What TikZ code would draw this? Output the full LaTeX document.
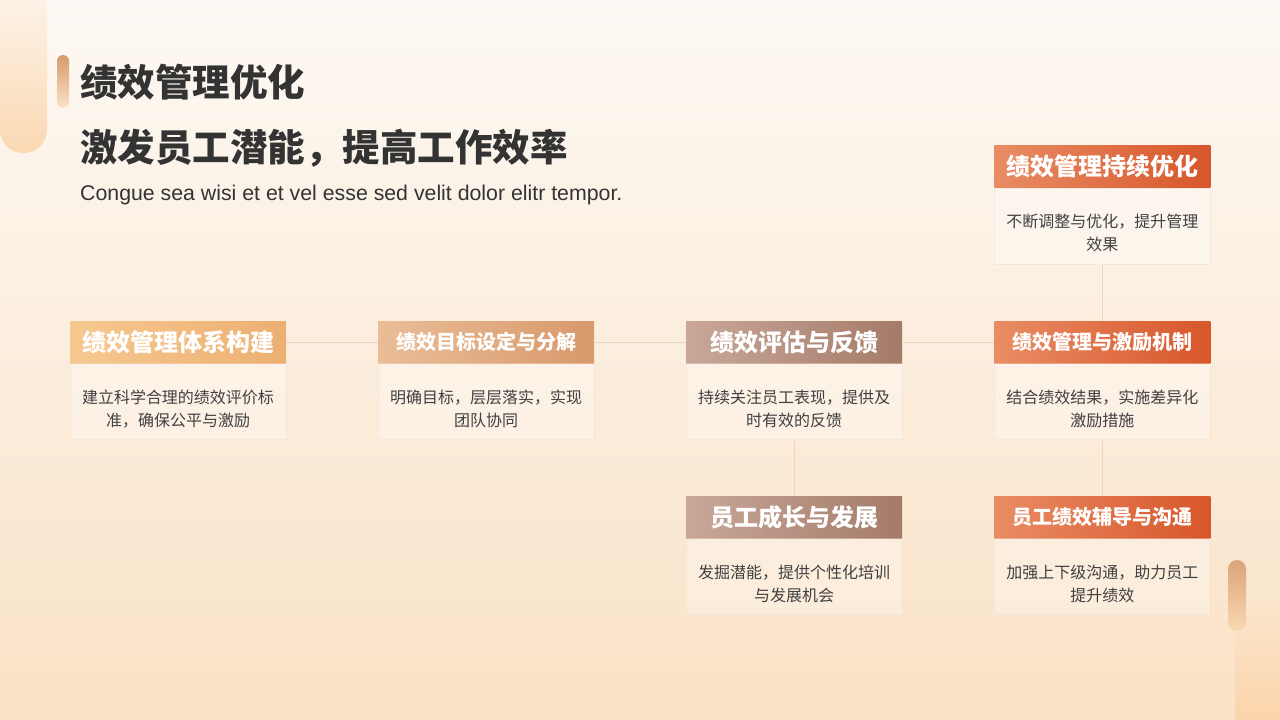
\documentclass[tikz,border=0pt]{standalone}
\usepackage{fontspec}
\setmainfont{Noto Sans CJK SC}
\newfontfamily\latinfont{Liberation Sans}
\usepackage{xcolor}
\usetikzlibrary{positioning}

\definecolor{bgtop}{HTML}{FDF9F4}
\definecolor{bgbot}{HTML}{FAE2C6}
\definecolor{titlegray}{HTML}{333333}
\definecolor{textgray}{HTML}{404040}
\definecolor{linecol}{HTML}{EDD4BE}
\definecolor{sandl}{HTML}{F6C890}
\definecolor{sandr}{HTML}{EDAF72}
\definecolor{tanl}{HTML}{EABD97}
\definecolor{tanr}{HTML}{D8996B}
\definecolor{mauvel}{HTML}{C9A799}
\definecolor{mauver}{HTML}{A47B68}
\definecolor{emberl}{HTML}{E98C64}
\definecolor{emberr}{HTML}{D8562B}
\definecolor{edgecol}{HTML}{EEDCC9}

\begin{document}
\begin{tikzpicture}[x=1pt, y=-1pt, node distance=0pt,
    head/.style={minimum width=216pt, minimum height=42pt, inner sep=0pt, text=white,
        font=\bfseries\fontsize{24pt}{28pt}\selectfont},
    headsm/.style={head, font=\bfseries\fontsize{20pt}{24pt}\selectfont},
    body/.style={minimum width=216pt, minimum height=76pt, inner sep=0pt,
        fill=white, fill opacity=0.3, draw=edgecol, draw opacity=0.4, line width=0.8pt,
        text opacity=1, text=textgray, font=\fontsize{16pt}{23pt}\selectfont,
        execute at begin node={\begin{minipage}[c][76pt][c]{216pt}\centering\vspace*{14pt}},
        execute at end node={\end{minipage}}},
    sand/.style={left color=sandl, right color=sandr},
    tan/.style={left color=tanl, right color=tanr},
    mauve/.style={left color=mauvel, right color=mauver},
    ember/.style={left color=emberl, right color=emberr},
    link/.style={draw=linecol, line width=0.8pt}]

    \useasboundingbox (0,0) rectangle (1280,720);
    \clip (0,0) rectangle (1280,720);
    \shade[top color=bgtop, bottom color=bgbot] (0,0) rectangle (1280,720);

    % corner decorations
    \shade[top color=bgtop, bottom color=bgbot!90!orange, rounded corners=23pt] (0,-40) rectangle (47,153);
    \shade[top color=tanr, bottom color=sandl!50!white, rounded corners=6pt] (57,55) rectangle (69,108);
    \shade[top color=bgbot!85!white, bottom color=bgbot!80!orange, rounded corners=22pt] (1235,595) rectangle (1300,760);
    \shade[top color=tanr!90!white, bottom color=sandl!70!white, rounded corners=9pt] (1228,560) rectangle (1246,631);

    % titles
    \node[anchor=west, inner sep=0pt, text=titlegray, font=\bfseries\fontsize{37.5pt}{40pt}\selectfont] (title) at (80,82) {绩效管理优化};
    \node[anchor=west, inner sep=0pt, text=titlegray, font=\bfseries\fontsize{37.5pt}{40pt}\selectfont] (subtitle) at (80,148) {激发员工潜能，提高工作效率};
    \node[anchor=west, inner sep=0pt, text=titlegray, font=\latinfont\fontsize{21.3pt}{24pt}\selectfont] (tagline) at (80,195) {Congue sea wisi et et vel esse sed velit dolor elitr tempor.};

    % main row
    \node[head, sand] (build) at (178,342) {绩效管理体系构建};
    \node[body, below=of build] (buildtxt) {建立科学合理的绩效评价标\\准，确保公平与激励};
    \node[headsm, tan, right=91.7pt of build] (goal) {绩效目标设定与分解};
    \node[body, below=of goal] (goaltxt) {明确目标，层层落实，实现\\团队协同};
    \node[head, mauve, right=91.7pt of goal] (eval) {绩效评估与反馈};
    \node[body, below=of eval] (evaltxt) {持续关注员工表现，提供及\\时有效的反馈};
    \node[headsm, ember, right=91.7pt of eval] (reward) {绩效管理与激励机制};
    \node[body, below=of reward] (rewardtxt) {结合绩效结果，实施差异化\\激励措施};

    % branches
    \node[body, above=56pt of reward] (optimtxt) {不断调整与优化，提升管理\\效果};
    \node[head, ember, above=of optimtxt] (optim) {绩效管理持续优化};
    \node[head, mauve, below=56pt of evaltxt] (grow) {员工成长与发展};
    \node[body, below=of grow] (growtxt) {发掘潜能，提供个性化培训\\与发展机会};
    \node[headsm, ember, below=56pt of rewardtxt] (coach) {员工绩效辅导与沟通};
    \node[body, below=of coach] (coachtxt) {加强上下级沟通，助力员工\\提升绩效};

    \draw[link] (build) -- (goal);
    \draw[link] (goal) -- (eval);
    \draw[link] (eval) -- (reward);
    \draw[link] (evaltxt) -- (grow);
    \draw[link] (optimtxt) -- (reward);
    \draw[link] (rewardtxt) -- (coach);
\end{tikzpicture}
\end{document}
